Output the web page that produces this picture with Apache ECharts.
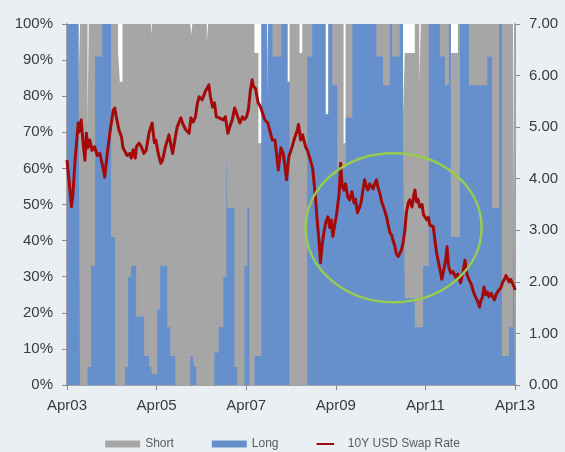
<!DOCTYPE html>
<html>
<head>
<meta charset="utf-8">
<script src="https://cdn.jsdelivr.net/npm/echarts@6/dist/echarts.min.js"></script>
<style>
html,body{margin:0;padding:0;background:#eaeff4;}
#chart{width:565px;height:452px;}
</style>
</head>
<body>
<div id="chart"></div>
<script>
// x positions are months since Apr 2003
const xTickLabels = ['Apr03','Apr05','Apr07','Apr09','Apr11','Apr13'];
const seriesNames = ['Short','Long','10Y USD Swap Rate'];

// positioning breakpoints (step changes)
const posMonths = [0,3.09,3.49,5.50,5.83,6.44,7.52,9.40,11.81,12.89,13.69,14.15,14.85,15.57,16.38,17.18,18.52,20.67,22.01,22.55,22.82,24.16,24.97,26.85,27.65,28.99,33.02,33.29,33.56,34.09,34.63,37.45,37.80,39.46,40.67,41.88,42.68,42.95,44.83,45.64,47.52,48.32,48.86,50.20,51.28,52.08,53.56,53.83,55.03,57.45,59.06,59.60,62.28,63.01,64.35,65.69,69.26,69.99,71.06,72.40,74.09,74.63,76.43,82.87,84.64,86.44,87.06,89.13,90.01,90.47,93.15,94.36,94.77,95.38,96.91,99.87,101.21,102.28,102.82,104.70,105.24,107.65,112.57,113.83,115.71,116.51,118.39,119.47,120];
const longPct  = [100,84,0,5,5,33,91,100,41,0,0,0,0,5,30,33,19,8,5,5,3,21,33,16,8,0,8,8,8,5,0,0,0,9,16,30,66,49,5,0,33,49,0,8,8,100,75,100,91,100,84,0,0,0,91,100,75,100,83,60,60,74,100,91,83,100,91,100,66,24,16,16,16,33,100,91,83,100,41,41,100,83,91,49,100,8,16,49,49];
const shortPct = [0,0,100,66,95,67,9,0,59,100,92,84,100,95,70,67,81,92,95,92,97,79,67,84,92,100,92,89,92,95,100,95,100,91,84,70,34,51,95,100,67,51,100,84,59,0,0,0,9,0,0,100,92,100,9,0,0,0,17,40,7,26,0,9,17,0,9,0,9,68,84,68,84,67,0,9,17,0,51,59,0,17,9,51,0,92,84,51,51];

// 10Y USD swap rate (%)
const rateMonths = [0,0.5,1.2,1.6,2.1,3.0,3.2,3.8,4.3,4.8,5.2,5.6,6.1,6.7,7.4,8.1,8.8,9.4,10.1,10.5,11.0,11.7,12.4,12.8,13.2,13.9,14.6,15.0,15.5,16.1,16.8,17.2,17.7,18.3,18.6,19.3,19.9,20.6,21.2,22.0,22.8,23.4,23.8,24.4,25.1,25.6,26.3,27.3,27.7,28.3,29.0,29.5,30.5,31.1,31.9,32.7,33.2,33.8,34.4,34.9,35.4,36.2,37.1,37.7,38.0,38.4,39.0,39.5,40.0,40.8,41.8,42.4,43.1,43.8,44.3,44.9,45.5,46.3,47.0,47.5,48.1,48.6,49.1,49.6,49.9,50.5,51.2,51.8,52.4,53.0,53.8,54.3,55.0,55.7,56.1,56.6,56.9,57.3,57.9,58.3,58.8,59.4,60.3,61.0,61.7,62.0,62.6,63.1,63.9,64.4,65.2,65.8,66.1,66.6,67.0,67.5,67.9,68.3,68.8,69.3,69.9,70.4,70.8,71.2,71.7,72.2,72.9,73.3,73.7,74.2,74.6,75.2,75.7,76.3,76.9,77.3,77.8,78.4,78.8,79.2,79.7,80.2,80.6,81.1,81.5,82.0,82.4,82.9,83.4,83.8,84.3,84.8,85.6,86.2,86.5,87.0,87.3,87.8,88.2,88.7,89.1,89.6,90.0,90.5,90.9,91.4,91.8,92.4,92.8,93.2,93.6,94.0,94.5,95.1,95.5,95.9,96.4,96.8,97.2,97.6,98.1,98.4,99.0,99.4,100.1,100.4,100.8,101.1,101.5,101.8,102.2,102.8,103.4,104.1,104.7,105.4,106.1,106.6,107.1,107.7,108.3,109.0,109.5,110.1,110.5,110.9,111.3,111.7,112.2,112.6,113.0,113.6,114.1,114.5,114.9,115.3,115.7,116.3,116.7,117.1,117.6,118.0,118.4,118.8,119.3,119.8,120.0];
const swapRate   = [4.36,4.0,3.46,3.7,4.3,5.08,4.9,5.14,4.7,4.36,4.88,4.6,4.75,4.55,4.62,4.45,4.49,4.3,4.03,4.3,4.62,5.0,5.33,5.37,5.2,4.95,4.81,4.6,4.62,4.45,4.49,4.4,4.56,4.4,4.62,4.69,4.62,4.49,4.55,4.9,5.08,4.7,4.75,4.5,4.3,4.36,4.6,4.85,4.88,4.49,4.8,5.0,5.18,5.05,4.94,4.88,5.18,5.1,5.2,5.45,5.59,5.53,5.7,5.78,5.82,5.6,5.39,5.47,5.2,5.18,5.14,5.2,4.88,5.05,5.15,5.37,5.25,5.08,5.2,5.15,5.2,5.35,5.7,5.92,5.8,5.75,5.47,5.4,5.27,5.14,5.08,4.94,4.75,4.75,4.5,4.17,4.36,4.6,4.49,4.3,3.98,4.42,4.62,4.8,4.94,5.05,4.75,4.85,4.62,4.55,4.36,4.2,3.98,3.6,3.2,2.8,2.37,2.7,2.95,3.15,3.26,3.05,3.2,2.88,3.1,3.3,3.72,4.3,3.85,3.78,3.9,3.65,3.59,3.75,3.53,3.6,3.34,3.45,3.55,3.75,3.98,3.85,3.78,3.9,3.92,3.8,3.9,3.98,3.8,3.72,3.55,3.45,3.26,3.05,2.95,2.9,2.81,2.7,2.55,2.49,2.55,2.62,2.75,3.0,3.34,3.53,3.59,3.45,3.65,3.78,3.55,3.6,3.45,3.5,3.3,3.26,3.2,3.25,3.1,3.07,3.07,2.9,2.56,2.42,2.17,2.05,2.04,2.3,2.45,2.68,2.3,2.17,2.2,2.09,2.15,1.98,2.2,2.42,2.15,2.04,1.95,1.78,1.7,1.6,1.51,1.65,1.7,1.9,1.75,1.8,1.71,1.78,1.7,1.65,1.75,1.8,1.84,1.9,2.0,2.04,2.12,2.09,2.0,2.05,1.98,1.9,1.84];

// annotation ellipse centre in data terms [month, rate]
const ellipseCentre = [87.5, 3.05];

// Long sits at the bottom, Short is stacked on top of it (top edge = Long + Short)
const longData = posMonths.map((m, i) => [m, longPct[i]]);
const shortTopData = posMonths.map((m, i) => [m, longPct[i] + shortPct[i]]);
const rateData = rateMonths.map((m, i) => [m, swapRate[i]]);

const FONT = 'Liberation Sans';
const chart = echarts.init(document.getElementById('chart'), null, {renderer: 'canvas'});
const axisLineStyle = {color: '#8a8a8a', width: 1.5};

chart.setOption({
  backgroundColor: '#eaeff4',
  animation: false,
  grid: {left: 67, right: 50, top: 24, bottom: 67, show: true, backgroundColor: '#ffffff', borderWidth: 0},
  legend: {
    left: 'center', top: 433,
    itemWidth: 35, itemHeight: 7, itemGap: 38,
    textStyle: {fontFamily: FONT, fontSize: 12, color: '#595959'},
    data: [
      {name: seriesNames[0], icon: 'rect'},
      {name: seriesNames[1], icon: 'rect'},
      {name: seriesNames[2], icon: 'path://M0,0M0,5L35,5L35,9L0,9ZM35,14'}
    ]
  },
  xAxis: {
    type: 'value', min: 0, max: 120, interval: 24,
    axisLine: {show: true, lineStyle: axisLineStyle},
    axisTick: {show: true, length: 5, lineStyle: {color: '#8a8a8a'}},
    splitLine: {show: false},
    axisLabel: {margin: 13, fontFamily: FONT, fontSize: 15, color: '#3a3a3a',
      formatter: v => xTickLabels[Math.round(v / 24)]}
  },
  yAxis: [
    {
      type: 'value', min: 0, max: 100, interval: 10, position: 'left',
      axisLine: {show: true, lineStyle: axisLineStyle},
      axisTick: {show: true, length: 5, lineStyle: {color: '#8a8a8a'}},
      splitLine: {show: false},
      axisLabel: {margin: 14, fontFamily: FONT, fontSize: 15, color: '#3a3a3a', formatter: '{value}%'}
    },
    {
      type: 'value', min: 0, max: 7, interval: 1, position: 'right',
      axisLine: {show: true, lineStyle: axisLineStyle},
      axisTick: {show: true, length: 5, lineStyle: {color: '#8a8a8a'}},
      splitLine: {show: false},
      axisLabel: {margin: 14, fontFamily: FONT, fontSize: 15, color: '#3a3a3a', formatter: v => v.toFixed(2)}
    }
  ],
  series: [
    {
      name: seriesNames[0], type: 'line', step: 'end', data: shortTopData,
      symbol: 'none', yAxisIndex: 0, z: 2,
      itemStyle: {color: '#a6a6a6'}, lineStyle: {width: 0, color: '#a6a6a6'},
      areaStyle: {color: '#a6a6a6', opacity: 1}
    },
    {
      name: seriesNames[1], type: 'line', step: 'end', data: longData,
      symbol: 'none', yAxisIndex: 0, z: 3,
      itemStyle: {color: '#6690cc'}, lineStyle: {width: 0, color: '#6690cc'},
      areaStyle: {color: '#6690cc', opacity: 1}
    },
    {
      name: seriesNames[2], type: 'line', data: rateData, yAxisIndex: 1,
      symbol: 'none', z: 5,
      itemStyle: {color: '#a50a0a'},
      lineStyle: {color: '#a50a0a', width: 3, join: 'round'}
    }
  ]
});

const c = chart.convertToPixel({xAxisIndex: 0, yAxisIndex: 1}, ellipseCentre);
chart.setOption({
  graphic: [{
    type: 'ellipse', z: 100,
    shape: {cx: c[0], cy: c[1], rx: 88, ry: 74.5},
    style: {fill: 'none', stroke: '#99cc4a', lineWidth: 2.5}
  }]
});
</script>
</body>
</html>
